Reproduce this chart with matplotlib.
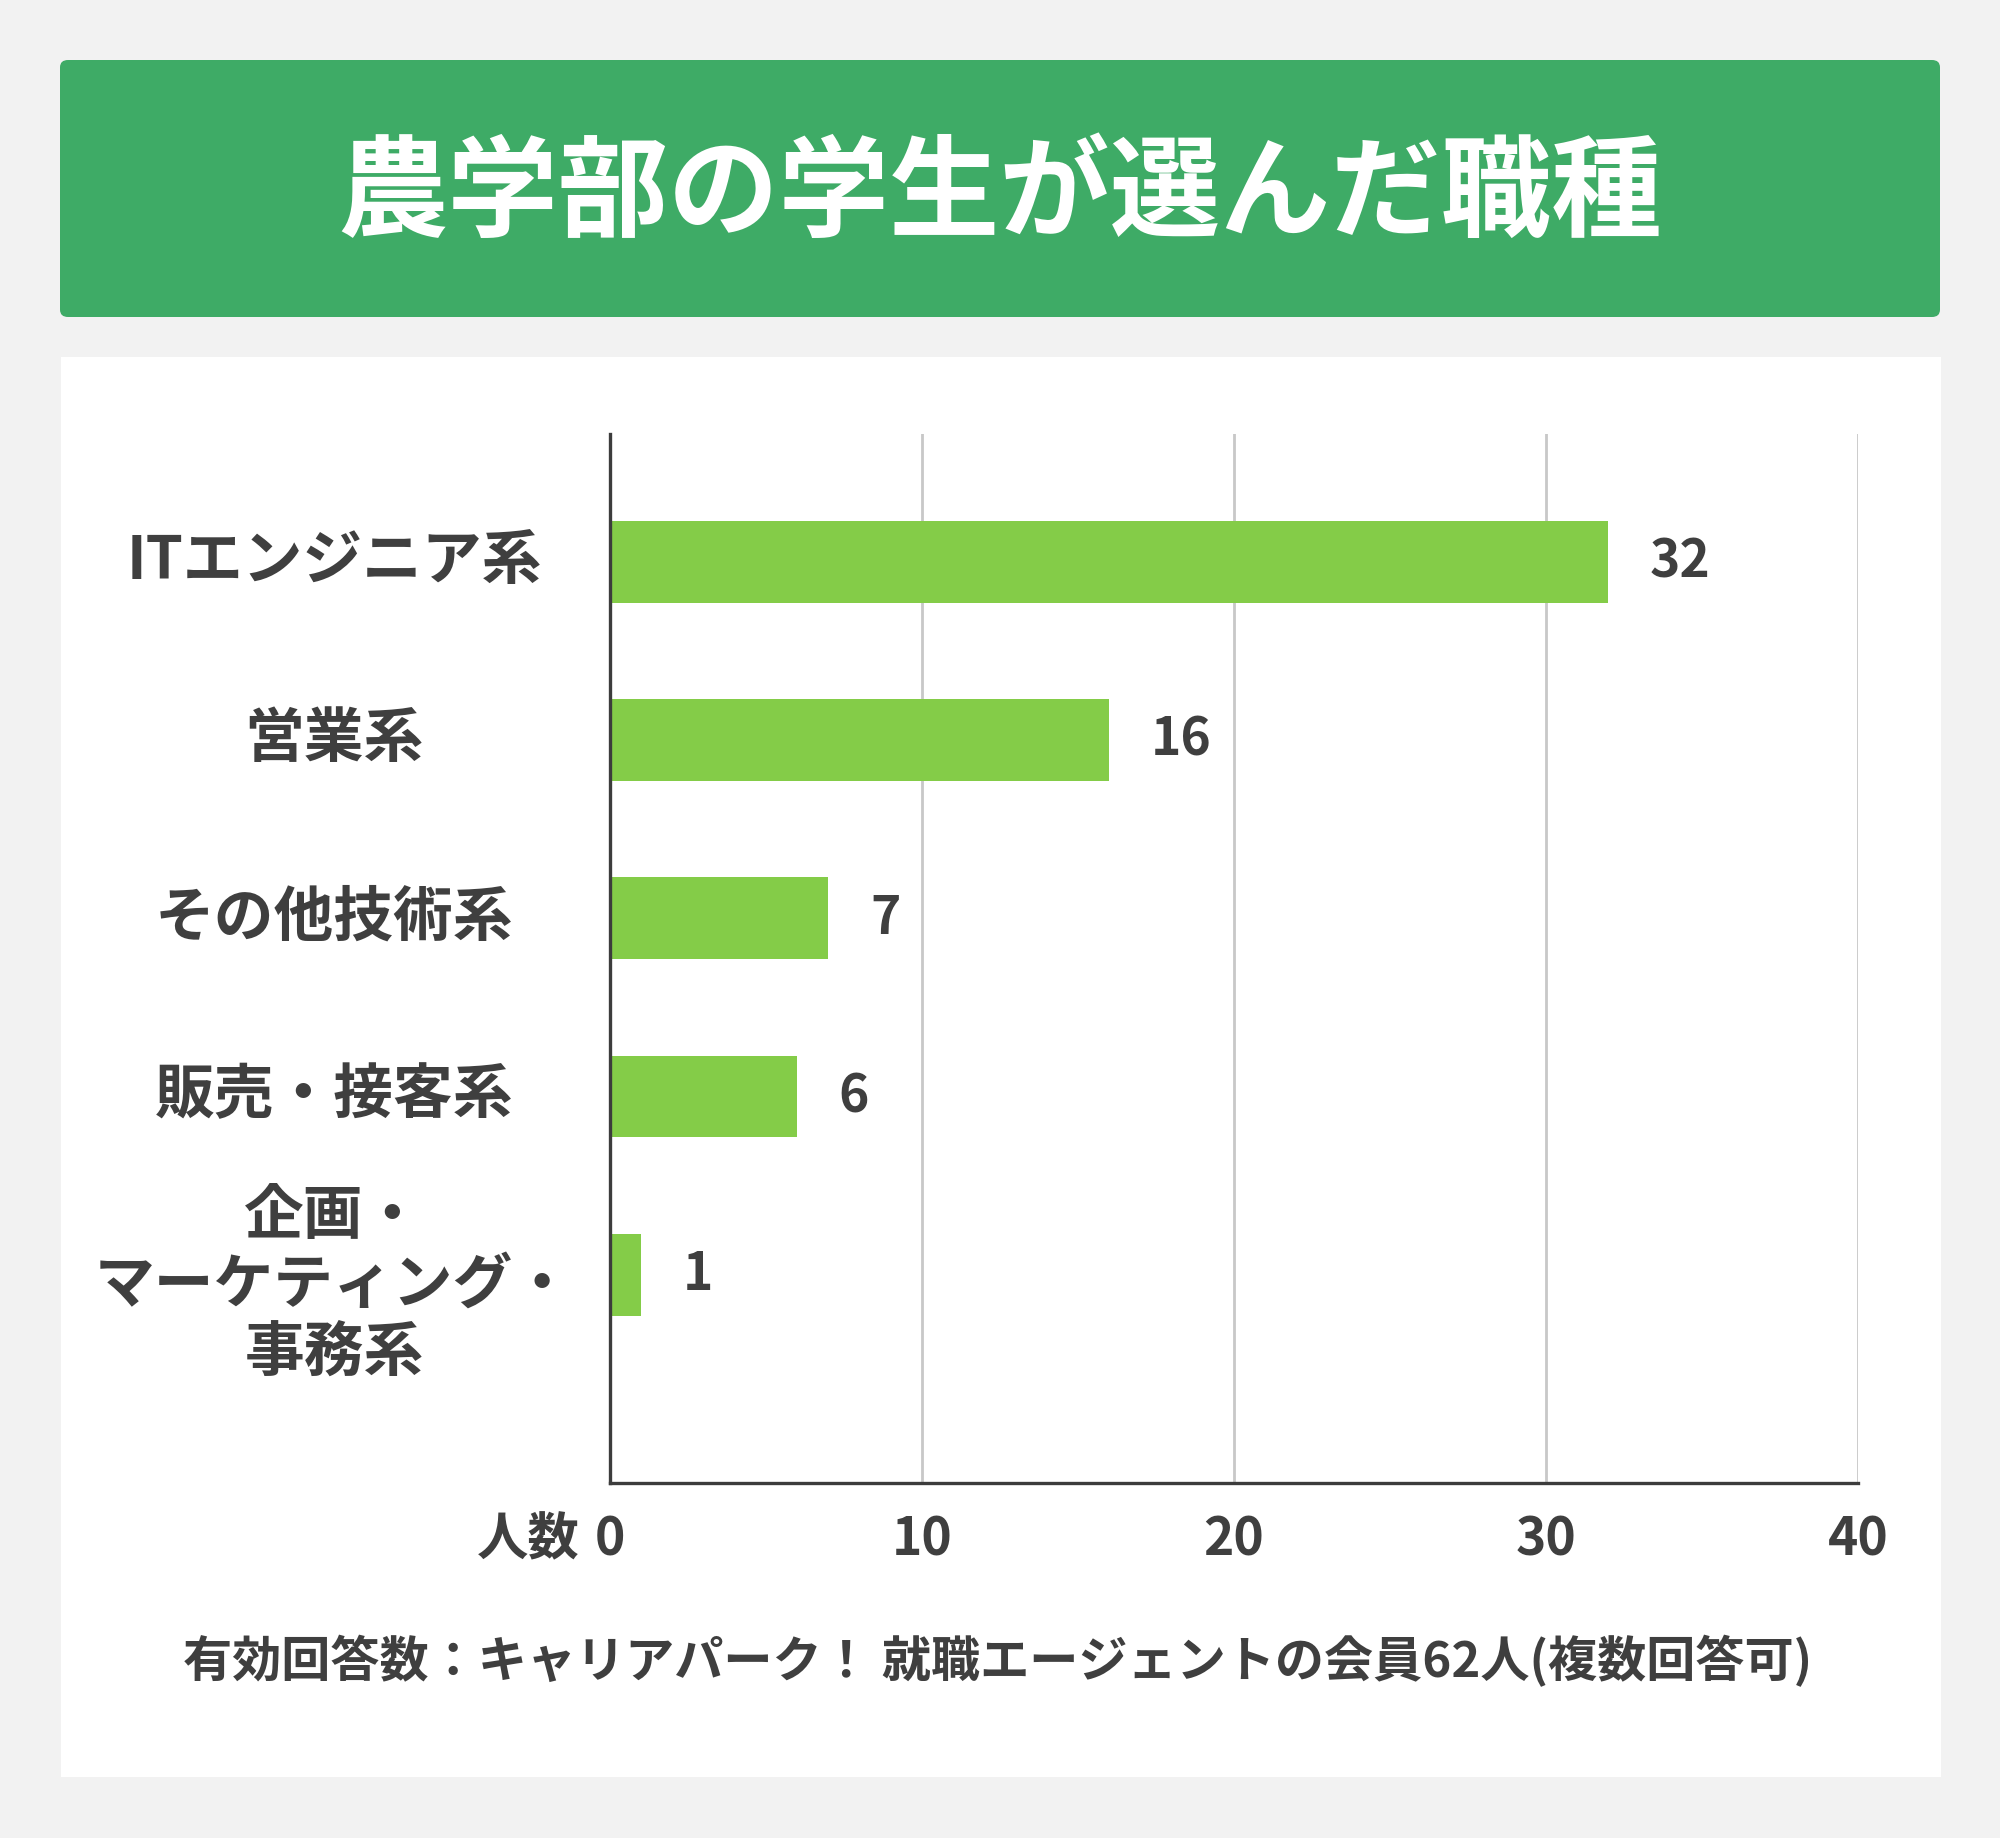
import matplotlib
matplotlib.use("Agg")
import matplotlib.pyplot as plt
from matplotlib.patches import FancyBboxPatch, Rectangle
from matplotlib.transforms import blended_transform_factory

plt.rcParams['font.family'] = ['Noto Sans CJK JP', 'DejaVu Sans']

title = "農学部の学生が選んだ職種"
categories = ["ITエンジニア系", "営業系", "その他技術系", "販売・接客系", "企画・\nマーケティング・\n事務系"]
values = [32, 16, 7, 6, 1]
xticks = [0, 10, 20, 30, 40]
xlabel = "人数"
footnote = "有効回答数：キャリアパーク！ 就職エージェントの会員62人(複数回答可)"

W, H = 2000, 1838
fig = plt.figure(figsize=(W / 100, H / 100), dpi=100)
fig.patch.set_facecolor("#f2f2f2")

def fx(px):
    return px / W

def fy(py):
    return 1 - py / H

# header
fig.patches.append(FancyBboxPatch((fx(60), fy(317)), fx(1880), (317 - 60) / H,
                                  boxstyle="round,pad=0,rounding_size=0.004",
                                  transform=fig.transFigure, facecolor="#3eab66",
                                  edgecolor="none", zorder=-2))
fig.text(0.5, fy(196), title, ha="center", va="center", color="white",
         fontsize=79.5, fontweight="bold")

# white panel
fig.patches.append(Rectangle((fx(61), fy(1777)), fx(1880), (1777 - 357) / H,
                             transform=fig.transFigure, facecolor="white",
                             edgecolor="none", zorder=-2))

text_color = "#3f3f3f"
ax = fig.add_axes([fx(610), fy(1483), fx(1858 - 610), (1483 - 434) / H])
ax.set_zorder(5)
ax.set_facecolor("none")
ypos = list(range(len(categories)))
ax.barh(ypos, values, height=0.46, color="#84cc48", zorder=3)
ax.set_xlim(0, 40)
ax.set_ylim(len(categories) - 1 + 1.17, -0.72)
ax.set_xticks(xticks)
ax.set_xticklabels([str(t) for t in xticks], fontsize=37, color=text_color,
                   fontweight="bold")
ax.tick_params(axis="x", length=0, pad=22)
ax.set_yticks([])
ax.xaxis.grid(True, color="#c8c8c8", linewidth=2)
ax.set_axisbelow(True)
for s in ["top", "right"]:
    ax.spines[s].set_visible(False)
for s in ["left", "bottom"]:
    ax.spines[s].set_color("#3c3c3c")
    ax.spines[s].set_linewidth(2.4)
    ax.spines[s].set_zorder(4)

for y, v in zip(ypos, values):
    ax.annotate(str(v), (v, y), xytext=(30, 0), textcoords="offset points",
                ha="left", va="center", fontsize=37, color=text_color,
                fontweight="bold")

trans = blended_transform_factory(fig.transFigure, ax.transData)
for y, c in zip(ypos, categories):
    multi = "\n" in c
    fig.text(fx(334), y + (0.06 if multi else 0), c, transform=trans,
             ha="center", va="center", fontsize=43, fontweight="bold",
             color=text_color, linespacing=1.18, zorder=6)

fig.text(fx(580), fy(1540), xlabel, ha="right", va="center", fontsize=37,
         color=text_color, fontweight="bold")

fig.text(fx(998), fy(1661), footnote, ha="center", va="center", fontsize=35.4,
         fontweight="bold", color=text_color)

fig.savefig("out.png", dpi=100, facecolor=fig.get_facecolor())
